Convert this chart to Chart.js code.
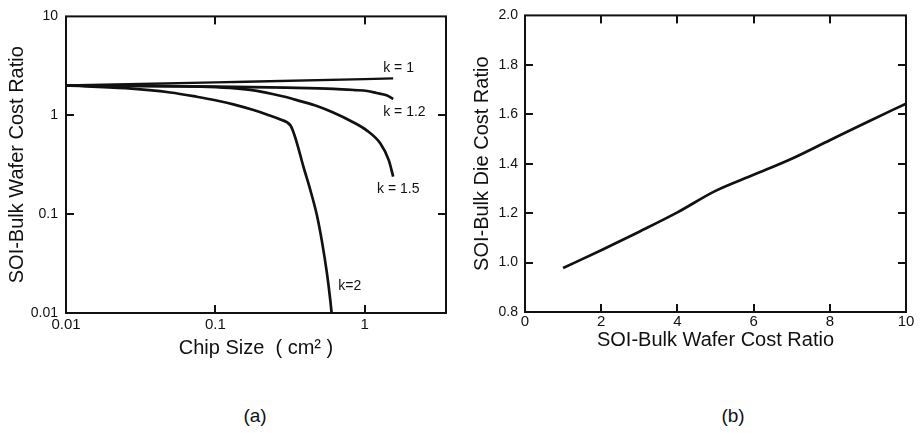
<!DOCTYPE html>
<html>
<head>
<meta charset="utf-8">
<script src="https://cdn.jsdelivr.net/npm/chart.js@4.4.1/dist/chart.umd.min.js"></script>
<style>
  body { margin: 0; background: #fff; width: 923px; height: 433px; position: relative; overflow: hidden;
         font-family: "Liberation Sans", Arial, Helvetica, sans-serif; }
  canvas { position: absolute; top: 0; }
  #chartA { left: 0; }
  #chartB { left: 460px; }
  .panel { position: absolute; top: 405px; font-size: 19px; color: #111; transform: translateX(-50%); }
</style>
</head>
<body>
<canvas id="chartA" width="460" height="370"></canvas>
<canvas id="chartB" width="463" height="370"></canvas>
<div class="panel" style="left:255px">(a)</div>
<div class="panel" style="left:733px">(b)</div>
<script>
// (a) wafer cost ratio against chip size, one curve per k
const k1Size = [0.01, 0.1, 1, 1.55];
const k1Ratio = [2.0, 2.15, 2.32, 2.36];

const k12Size = [0.01, 0.03, 0.1, 0.3, 0.62, 0.85, 1.04, 1.2, 1.4, 1.55];
const k12Ratio = [2.0, 1.98, 1.95, 1.9, 1.85, 1.8, 1.76, 1.68, 1.59, 1.46];

const k15Size = [0.01, 0.03, 0.079, 0.171, 0.286, 0.37, 0.478, 0.62, 0.8, 1.035, 1.27, 1.45, 1.55];
const k15Ratio = [2.0, 1.98, 1.95, 1.81, 1.55, 1.39, 1.24, 1.06, 0.88, 0.7, 0.52, 0.35, 0.24];

const k2Size = [0.01, 0.025, 0.05, 0.075, 0.1, 0.132, 0.18, 0.221, 0.27, 0.318, 0.33, 0.352, 0.389, 0.431, 0.478, 0.517, 0.559, 0.588, 0.6];
const k2Ratio = [2.0, 1.88, 1.7, 1.54, 1.42, 1.29, 1.13, 1.02, 0.91, 0.79, 0.7, 0.52, 0.3, 0.178, 0.098, 0.053, 0.025, 0.0135, 0.01];

const sizeTicks = [0.01, 0.1, 1];
const waferTicks = [0.01, 0.1, 1, 10];

// (b) die cost ratio against wafer cost ratio
const waferRatio = [1, 2, 3, 4, 5, 6, 7, 8, 9, 10];
const dieRatio = [0.978, 1.05, 1.125, 1.203, 1.29, 1.355, 1.42, 1.495, 1.57, 1.643];

const waferAxisTicks = [0, 2, 4, 6, 8, 10];
const dieAxisTicks = [0.8, 1.0, 1.2, 1.4, 1.6, 1.8, 2.0];

const ink = '#111';
const fontFamily = '"Liberation Sans", Arial, Helvetica, sans-serif';

const pts = (xs, ys) => xs.map((x, i) => ({ x, y: ys[i] }));

// per-canvas tick positions and curve labels for the frame plugin
const frames = {
  chartA: {
    xTicks: sizeTicks,
    yTicks: waferTicks,
    notes: [
      { text: 'k = 1', x: 1.33, y: 2.99 },
      { text: 'k = 1.2', x: 1.33, y: 1.07 },
      { text: 'k = 1.5', x: 1.21, y: 0.177 },
      { text: 'k=2', x: 0.665, y: 0.0189 }
    ]
  },
  chartB: { xTicks: waferAxisTicks, yTicks: dieAxisTicks, notes: [] }
};

// box around the plot area, inward tick marks on all four sides, curve labels
const frameTicks = {
  id: 'frameTicks',
  afterDraw(chart) {
    const opts = frames[chart.canvas.id];
    const { ctx, chartArea: a } = chart;
    const x = chart.scales.x, y = chart.scales.y;
    const len = 8, w = 2;
    ctx.save();
    ctx.fillStyle = ink;
    for (const v of opts.xTicks) {
      const px = Math.round(x.getPixelForValue(v));
      if (px <= a.left + 3 || px >= a.right - 3) continue;
      ctx.fillRect(px - 1, a.bottom - len, w, len);
      ctx.fillRect(px - 1, a.top, w, len);
    }
    for (const v of opts.yTicks) {
      const py = Math.round(y.getPixelForValue(v));
      if (py <= a.top + 3 || py >= a.bottom - 3) continue;
      ctx.fillRect(a.left, py - 1, len, w);
      ctx.fillRect(a.right - len, py - 1, len, w);
    }
    ctx.strokeStyle = ink;
    ctx.lineWidth = 2;
    ctx.strokeRect(a.left, a.top, a.right - a.left, a.bottom - a.top);

    ctx.font = '14px ' + fontFamily;
    ctx.textAlign = 'left';
    ctx.textBaseline = 'middle';
    for (const n of opts.notes) {
      ctx.fillText(n.text, x.getPixelForValue(n.x), y.getPixelForValue(n.y));
    }
    ctx.restore();
  }
};

const line = (data, width) => ({
  data,
  borderColor: ink,
  borderWidth: width,
  pointRadius: 0,
  cubicInterpolationMode: 'monotone',
  fill: false
});

const axisTitle = (text, padding) => ({
  display: true,
  text,
  color: ink,
  font: { family: fontFamily, size: 20 },
  padding
});

new Chart(document.getElementById('chartA'), {
  type: 'line',
  data: {
    datasets: [
      line(pts(k1Size, k1Ratio), 2.3),
      line(pts(k12Size, k12Ratio), 2.7),
      line(pts(k15Size, k15Ratio), 2.7),
      line(pts(k2Size, k2Ratio), 2.7)
    ]
  },
  options: {
    responsive: false,
    animation: false,
    layout: { padding: { left: 0, right: 14, top: 10, bottom: 0 } },
    plugins: { legend: { display: false }, tooltip: { enabled: false } },
    scales: {
      x: {
        type: 'logarithmic',
        min: 0.01,
        max: 3.5,
        afterBuildTicks: s => { s.ticks = sizeTicks.map(v => ({ value: v })); },
        afterFit: s => { s.height = 57; },
        grid: { display: false, drawTicks: false },
        border: { display: false },
        ticks: {
          color: ink, font: { family: fontFamily, size: 15 }, padding: 3,
          autoSkip: false, maxRotation: 0, callback: v => String(v)
        },
        title: axisTitle('Chip Size  ( cm² )', { top: 0, bottom: 10 })
      },
      y: {
        type: 'logarithmic',
        min: 0.01,
        max: 10,
        afterBuildTicks: s => { s.ticks = waferTicks.map(v => ({ value: v })); },
        afterFit: s => { s.width = 66; },
        grid: { display: false, drawTicks: false },
        border: { display: false },
        ticks: {
          color: ink, font: { family: fontFamily, size: 14 }, padding: 8,
          autoSkip: false, callback: v => String(v)
        },
        title: axisTitle('SOI-Bulk Wafer Cost Ratio', { top: 5, bottom: 0 })
      }
    }
  },
  plugins: [frameTicks]
});

new Chart(document.getElementById('chartB'), {
  type: 'line',
  data: {
    datasets: [line(pts(waferRatio, dieRatio), 2.7)]
  },
  options: {
    responsive: false,
    animation: false,
    layout: { padding: { left: 0, right: 17, top: 9, bottom: 0 } },
    plugins: { legend: { display: false }, tooltip: { enabled: false } },
    scales: {
      x: {
        type: 'linear',
        min: 0,
        max: 10,
        afterBuildTicks: s => { s.ticks = waferAxisTicks.map(v => ({ value: v })); },
        afterFit: s => { s.height = 58; },
        grid: { display: false, drawTicks: false },
        border: { display: false },
        ticks: {
          color: ink, font: { family: fontFamily, size: 15 }, padding: 1,
          autoSkip: false, maxRotation: 0, callback: v => String(v)
        },
        title: axisTitle('SOI-Bulk Wafer Cost Ratio', { top: 0, bottom: 18 })
      },
      y: {
        type: 'linear',
        min: 0.8,
        max: 2.0,
        afterBuildTicks: s => { s.ticks = dieAxisTicks.map(v => ({ value: v })); },
        afterFit: s => { s.width = 65; },
        grid: { display: false, drawTicks: false },
        border: { display: false },
        ticks: {
          color: ink, font: { family: fontFamily, size: 14 }, padding: 7,
          autoSkip: false, callback: v => v.toFixed(1)
        },
        title: axisTitle('SOI-Bulk Die Cost Ratio', { top: 10, bottom: 0 })
      }
    }
  },
  plugins: [frameTicks]
});
</script>
</body>
</html>
